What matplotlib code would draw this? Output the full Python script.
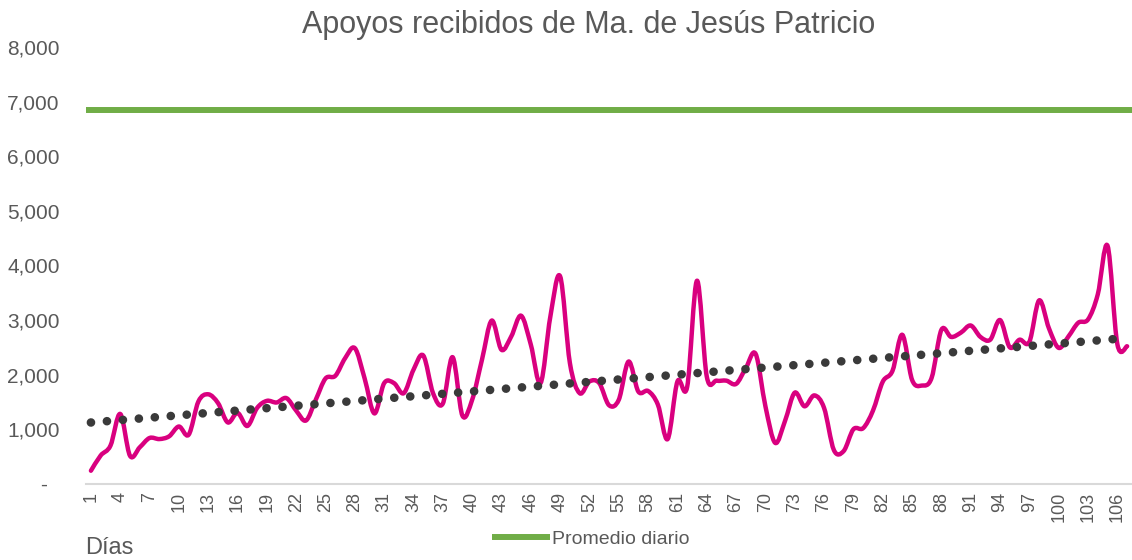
import numpy as np
import matplotlib
matplotlib.use("Agg")
import matplotlib.pyplot as plt
from matplotlib.path import Path
from matplotlib.patches import PathPatch
from matplotlib.ticker import FuncFormatter

plt.rcParams['font.family'] = ['Liberation Sans', 'DejaVu Sans']

# apoyos diarios
apoyos = [240, 520, 700, 1280, 513, 670, 840, 820, 870, 1050,
          900, 1510, 1640, 1480, 1125, 1300, 1060, 1390, 1520, 1490,
          1570, 1340, 1160, 1540, 1930, 1978, 2300, 2485, 1930, 1290,
          1845, 1845, 1660, 2090, 2350, 1660, 1470, 2320, 1250, 1540,
          2270, 2990, 2455, 2700, 3080, 2550, 1845, 3065, 3800, 2210,
          1660, 1875, 1845, 1440, 1540, 2240, 1690, 1700, 1450, 820,
          1875, 1780, 3720, 1965, 1890, 1890, 1830, 2120, 2380, 1420,
          750, 1150, 1670, 1420, 1620, 1390, 620, 600, 1000, 1020,
          1340, 1870, 2070, 2730, 1905, 1800, 1940, 2820, 2690, 2770,
          2900, 2690, 2640, 3000, 2500, 2640, 2600, 3360, 2850, 2490,
          2700, 2950, 3010, 3470, 4360, 2560, 2520]
dias = list(range(1, len(apoyos) + 1))
promedio_diario = 6850
tick_dias = list(range(1, 107, 3))
y_ticks = [0, 1000, 2000, 3000, 4000, 5000, 6000, 7000, 8000]

magenta = '#D9007F'
verde = '#70AD47'
gris = '#595959'


def smooth_path(xs, ys):
    # curva suavizada tipo Excel (Catmull-Rom -> Bezier)
    pts = np.column_stack([xs, ys]).astype(float)
    n = len(pts)
    verts = [pts[0]]
    codes = [Path.MOVETO]
    for i in range(n - 1):
        p0 = pts[i - 1] if i > 0 else pts[i]
        p1 = pts[i]
        p2 = pts[i + 1]
        p3 = pts[i + 2] if i + 2 < n else pts[i + 1]
        verts += [p1 + (p2 - p0) / 6, p2 - (p3 - p1) / 6, p2]
        codes += [Path.CURVE4] * 3
    return Path(verts, codes)


fig = plt.figure(figsize=(11.32, 5.6), dpi=100)
ax = fig.add_axes([0.076, 0.136, 0.924, 0.78])

ax.add_patch(PathPatch(smooth_path(dias, apoyos), fill=False,
                       edgecolor=magenta, lw=3.2, capstyle='round', joinstyle='round'))

# tendencia lineal
coef = np.polyfit(dias, apoyos, 1)
ax.plot(dias, np.polyval(coef, dias), color='#3A3A3A', lw=6.2,
        dashes=(0.01, 1.85), dash_capstyle='round')

ax.plot([0.5, len(dias) + 0.5], [promedio_diario, promedio_diario],
        color=verde, lw=4.3, label='Promedio diario', solid_capstyle='butt')

ax.set_xlim(0.5, len(dias) + 0.5)
ax.set_ylim(0, 8000)
ax.set_xticks(tick_dias)
ax.set_xticklabels([str(d) for d in tick_dias], rotation=90, fontsize=13, color=gris)
ax.set_yticks(y_ticks)
ax.yaxis.set_major_formatter(FuncFormatter(lambda v, p: '-  ' if v == 0 else f'{int(v):,}'))
ax.tick_params(axis='y', labelsize=15, labelcolor=gris, length=0, pad=19)
ax.tick_params(axis='x', length=0, pad=6)

for s in ['top', 'right', 'left']:
    ax.spines[s].set_visible(False)
ax.spines['bottom'].set_color('#D9D9D9')
ax.spines['bottom'].set_linewidth(1.5)

fig.text(0.52, 0.955, 'Apoyos recibidos de Ma. de Jesús Patricio',
         ha='center', va='center', fontsize=22, color=gris)
fig.text(0.075, 0.022, 'Días', ha='left', va='center', fontsize=17, color=gris)
fig.legend(loc='center', bbox_to_anchor=(0.522, 0.037), frameon=False,
           fontsize=14, handlelength=3.0, handletextpad=0.1, labelcolor=gris)

fig.savefig('out.png', dpi=100)
